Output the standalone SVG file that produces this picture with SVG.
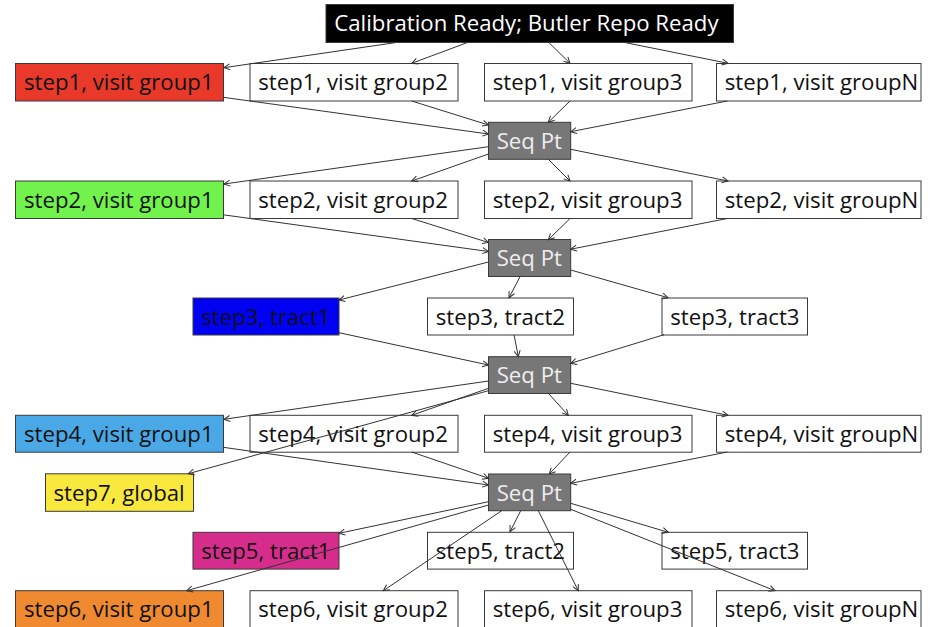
<svg xmlns="http://www.w3.org/2000/svg" width="934" height="627" viewBox="0 0 934 627">
<defs>
<style>
.box{stroke:#3a3a3a;stroke-width:1}
.t{font-family:"Open Sans","Noto Sans",sans-serif;font-size:22.2px;fill:#111111}
.w{fill:#ffffff}
.sp rect{fill:#777777;stroke:#3a3a3a;stroke-width:1}
.sp text{fill:#eeeeee}
#edges line{stroke:#333333;stroke-width:1;marker-end:url(#ah)}
</style>
<marker id="ah" markerUnits="userSpaceOnUse" markerWidth="10" markerHeight="10" viewBox="-8 -5 10 10" refX="0" refY="0" orient="auto">
<path d="M-6,-3 L0,0 L-6,3" fill="none" stroke="#333333" stroke-width="1"/>
</marker>
</defs>
<rect width="934" height="627" fill="#ffffff"/>

<g id="calib"><rect class="box" x="326" y="4.5" width="407.5" height="38" fill="#000000"/><text class="t w" x="334.3" y="31">Calibration Ready; Butler Repo Ready</text></g>

<g id="s1g1"><rect class="box" x="15.5" y="63.5" width="208" height="37.5" fill="#e8392b"/><text class="t" x="24" y="90.2">step1, visit group1</text></g>
<g id="s1g2"><rect class="box" x="250" y="63.5" width="208" height="37.5" fill="#ffffff"/><text class="t" x="258.3" y="90.2">step1, visit group2</text></g>
<g id="s1g3"><rect class="box" x="484.5" y="63.5" width="207.5" height="37.5" fill="#ffffff"/><text class="t" x="492.8" y="90.2">step1, visit group3</text></g>
<g id="s1gN"><rect class="box" x="716.5" y="63.5" width="204.5" height="37.5" fill="#ffffff"/><text class="t" x="724.7" y="90.2">step1, visit groupN</text></g>

<g id="seq1" class="sp"><rect x="488.5" y="122.3" width="82.2" height="37"/><text class="t" x="496.7" y="149">Seq Pt</text></g>

<g id="s2g1"><rect class="box" x="15.5" y="181" width="208" height="37.5" fill="#72f24d"/><text class="t" x="24" y="207.7">step2, visit group1</text></g>
<g id="s2g2"><rect class="box" x="250" y="181" width="208" height="37.5" fill="#ffffff"/><text class="t" x="258.3" y="207.7">step2, visit group2</text></g>
<g id="s2g3"><rect class="box" x="484.5" y="181" width="207.5" height="37.5" fill="#ffffff"/><text class="t" x="492.8" y="207.7">step2, visit group3</text></g>
<g id="s2gN"><rect class="box" x="716.5" y="181" width="204.5" height="37.5" fill="#ffffff"/><text class="t" x="724.7" y="207.7">step2, visit groupN</text></g>

<g id="seq2" class="sp"><rect x="488.5" y="239.5" width="82.2" height="37"/><text class="t" x="496.7" y="266.2">Seq Pt</text></g>

<g id="s3t1"><rect class="box" x="193" y="298" width="146" height="37" fill="#0000f2"/><text class="t" x="201.3" y="324.5">step3, tract1</text></g>
<g id="s3t2"><rect class="box" x="427.5" y="298" width="146" height="37" fill="#ffffff"/><text class="t" x="435.8" y="324.5">step3, tract2</text></g>
<g id="s3t3"><rect class="box" x="662" y="298" width="145.5" height="37" fill="#ffffff"/><text class="t" x="670.3" y="324.5">step3, tract3</text></g>

<g id="seq3" class="sp"><rect x="488.5" y="356.7" width="82.2" height="36.8"/><text class="t" x="496.7" y="383.3">Seq Pt</text></g>

<g id="s4g1"><rect class="box" x="15.5" y="415.3" width="208" height="36.9" fill="#4aa8e6"/><text class="t" x="24" y="441.8">step4, visit group1</text></g>
<g id="s4g2"><rect class="box" x="250" y="415.3" width="208" height="36.9" fill="#ffffff"/><text class="t" x="258.3" y="441.8">step4, visit group2</text></g>
<g id="s4g3"><rect class="box" x="484.5" y="415.3" width="207.5" height="36.9" fill="#ffffff"/><text class="t" x="492.8" y="441.8">step4, visit group3</text></g>
<g id="s4gN"><rect class="box" x="716.5" y="415.3" width="204.5" height="36.9" fill="#ffffff"/><text class="t" x="724.7" y="441.8">step4, visit groupN</text></g>

<g id="s7"><rect class="box" x="45.5" y="473.8" width="148" height="37.5" fill="#f9e83d"/><text class="t" x="53.5" y="500.5">step7, global</text></g>

<g id="seq4" class="sp"><rect x="488.5" y="474" width="82.2" height="36.7"/><text class="t" x="496.7" y="500.5">Seq Pt</text></g>

<g id="s5t1"><rect class="box" x="193" y="532.3" width="146" height="36.8" fill="#d62d8c"/><text class="t" x="201.3" y="558.8">step5, tract1</text></g>
<g id="s5t2"><rect class="box" x="427.5" y="532.3" width="146" height="36.8" fill="#ffffff"/><text class="t" x="435.8" y="558.8">step5, tract2</text></g>
<g id="s5t3"><rect class="box" x="662" y="532.3" width="145.5" height="36.8" fill="#ffffff"/><text class="t" x="670.3" y="558.8">step5, tract3</text></g>

<g id="s6g1"><rect class="box" x="15.5" y="590.7" width="208" height="37.5" fill="#f08a30"/><text class="t" x="24" y="617.2">step6, visit group1</text></g>
<g id="s6g2"><rect class="box" x="250" y="590.7" width="208" height="37.5" fill="#ffffff"/><text class="t" x="258.3" y="617.2">step6, visit group2</text></g>
<g id="s6g3"><rect class="box" x="484.5" y="590.7" width="207.5" height="37.5" fill="#ffffff"/><text class="t" x="492.8" y="617.2">step6, visit group3</text></g>
<g id="s6gN"><rect class="box" x="716.5" y="590.7" width="204.5" height="37.5" fill="#ffffff"/><text class="t" x="724.7" y="617.2">step6, visit groupN</text></g>

<g id="edges">
<line x1="395" y1="42.7" x2="224" y2="67.7"/>
<line x1="467" y1="42.7" x2="411.7" y2="63.3"/>
<line x1="549" y1="42.7" x2="570" y2="63.3"/>
<line x1="625.7" y1="42.7" x2="728" y2="63.3"/>

<line x1="223.3" y1="97.3" x2="488.5" y2="134"/>
<line x1="411.7" y1="101" x2="488.5" y2="125"/>
<line x1="570" y1="101" x2="548.3" y2="122.3"/>
<line x1="727.3" y1="101" x2="570.7" y2="131.7"/>

<line x1="488.5" y1="146.7" x2="224" y2="184"/>
<line x1="488.5" y1="154" x2="411.7" y2="181"/>
<line x1="548.3" y1="159.3" x2="570" y2="181"/>
<line x1="570.7" y1="149.3" x2="728" y2="181"/>

<line x1="223.3" y1="214.8" x2="488.5" y2="251.5"/>
<line x1="411.7" y1="218.5" x2="488.5" y2="242.5"/>
<line x1="570" y1="218.5" x2="548.3" y2="239.8"/>
<line x1="727.3" y1="218.5" x2="570.7" y2="249.2"/>

<line x1="488.5" y1="262" x2="339" y2="300"/>
<line x1="520" y1="276.7" x2="509" y2="297.7"/>
<line x1="570.7" y1="270" x2="668" y2="297.7"/>

<line x1="339" y1="332.7" x2="488.5" y2="365"/>
<line x1="514" y1="334.7" x2="518.3" y2="356.7"/>
<line x1="664" y1="334.7" x2="570.7" y2="363.3"/>

<line x1="488.5" y1="381" x2="224" y2="419.3"/>
<line x1="488.5" y1="388.3" x2="411.7" y2="415.3"/>
<line x1="488.5" y1="390.7" x2="188.3" y2="473.7"/>
<line x1="548.3" y1="393.3" x2="568.3" y2="415.3"/>
<line x1="570.7" y1="383.3" x2="728" y2="415.3"/>

<line x1="223.3" y1="447.3" x2="488.5" y2="485"/>
<line x1="411.7" y1="452" x2="488.5" y2="478.3"/>
<line x1="570" y1="452" x2="549.3" y2="474"/>
<line x1="727.3" y1="452" x2="570.7" y2="483.3"/>

<line x1="488.5" y1="501.7" x2="339" y2="533.3"/>
<line x1="488.5" y1="505" x2="186.7" y2="590.7"/>
<line x1="501.7" y1="510.7" x2="383.3" y2="590.7"/>
<line x1="520.7" y1="510.7" x2="510" y2="531.7"/>
<line x1="538.3" y1="510.7" x2="578.3" y2="590.7"/>
<line x1="570.7" y1="503.3" x2="668.3" y2="532.3"/>
<line x1="570.7" y1="509.3" x2="775" y2="590.7"/>
</g>
</svg>
